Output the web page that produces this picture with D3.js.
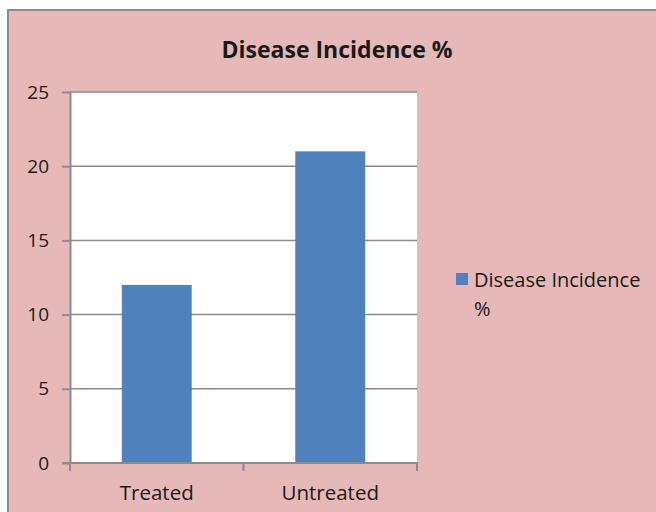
<!DOCTYPE html>
<html>
<head>
<meta charset="utf-8">
<script src="https://cdn.jsdelivr.net/npm/d3@7"></script>
<style>
  html, body { margin: 0; padding: 0; background: #fff; }
  svg { display: block; }
  text { font-family: "Open Sans", "Liberation Sans", sans-serif; fill: #1a1a1a; }
</style>
</head>
<body>
<svg id="chart" width="656" height="512"></svg>
<script>
// Chart data
const categories = ["Treated", "Untreated"];
const seriesName = "Disease Incidence %";
const values = [12, 21];
const yTicks = [0, 5, 10, 15, 20, 25];

const svg = d3.select("#chart");
const W = 656, H = 512;
const plot = { left: 70, top: 92, right: 417, bottom: 463 };
const FONT = "'Open Sans', 'Liberation Sans', sans-serif";

// Chart frame
svg.append("rect")
  .attr("x", 8).attr("y", 10)
  .attr("width", W).attr("height", H)
  .attr("fill", "#e6b8b7")
  .attr("stroke", "#8c8c8c").attr("stroke-width", 2);

// Plot area
svg.append("rect")
  .attr("x", plot.left).attr("y", plot.top)
  .attr("width", plot.right - plot.left).attr("height", plot.bottom - plot.top)
  .attr("fill", "#ffffff");

const x = d3.scaleBand().domain(categories).range([plot.left, plot.right]).padding(0);
const y = d3.scaleLinear().domain([0, 25]).range([plot.bottom, plot.top]);

// Gridlines
svg.append("g").selectAll("line")
  .data(yTicks.filter(d => d > 0))
  .join("line")
  .attr("x1", plot.left).attr("x2", plot.right)
  .attr("y1", d => y(d)).attr("y2", d => y(d))
  .attr("stroke", "#8c8c8c").attr("stroke-width", 1.5);

// Bars
const barFrac = 0.403;
svg.append("g").selectAll("rect")
  .data(values)
  .join("rect")
  .attr("x", (d, i) => x(categories[i]) + x.bandwidth() * (1 - barFrac) / 2)
  .attr("width", x.bandwidth() * barFrac)
  .attr("y", d => y(d))
  .attr("height", d => y(0) - y(d))
  .attr("fill", "#4f81bd");

// Y axis
const yAxis = svg.append("g")
  .attr("transform", `translate(${plot.left},0)`)
  .call(d3.axisLeft(y).tickValues(yTicks).tickSize(8).tickPadding(13).tickSizeOuter(0));
yAxis.select(".domain").attr("stroke", "#8c8c8c").attr("stroke-width", 2);
yAxis.selectAll(".tick line").attr("stroke", "#8c8c8c").attr("stroke-width", 2);
yAxis.selectAll(".tick text")
  .attr("font-size", 19).attr("fill", "#1a1a1a")
  .style("font-family", FONT);

// X axis with category boundary ticks
const xg = svg.append("g");
xg.append("line")
  .attr("x1", plot.left - 8).attr("x2", plot.right + 1)
  .attr("y1", plot.bottom).attr("y2", plot.bottom)
  .attr("stroke", "#8c8c8c").attr("stroke-width", 2);
const bounds = categories.map(c => x(c)).concat([x(categories[categories.length - 1]) + x.bandwidth()]);
xg.selectAll("line.tk")
  .data(bounds)
  .join("line")
  .attr("class", "tk")
  .attr("x1", d => d).attr("x2", d => d)
  .attr("y1", plot.bottom).attr("y2", plot.bottom + 8)
  .attr("stroke", "#8c8c8c").attr("stroke-width", 2);
xg.selectAll("text")
  .data(categories)
  .join("text")
  .attr("x", d => x(d) + x.bandwidth() / 2)
  .attr("y", 500)
  .attr("text-anchor", "middle")
  .attr("font-size", 20.5)
  .text(d => d);

// Title
svg.append("text")
  .attr("x", 337).attr("y", 58)
  .attr("text-anchor", "middle")
  .attr("font-size", 23).attr("font-weight", "bold")
  .attr("fill", "#000")
  .text(seriesName);

// Legend
const lg = svg.append("g");
lg.append("rect")
  .attr("x", 456).attr("y", 273)
  .attr("width", 12).attr("height", 12)
  .attr("fill", "#4f81bd");
lg.append("text")
  .attr("x", 474).attr("y", 287)
  .attr("font-size", 20)
  .text("Disease Incidence");
lg.append("text")
  .attr("x", 474).attr("y", 316)
  .attr("font-size", 20)
  .text("%");
</script>
</body>
</html>
